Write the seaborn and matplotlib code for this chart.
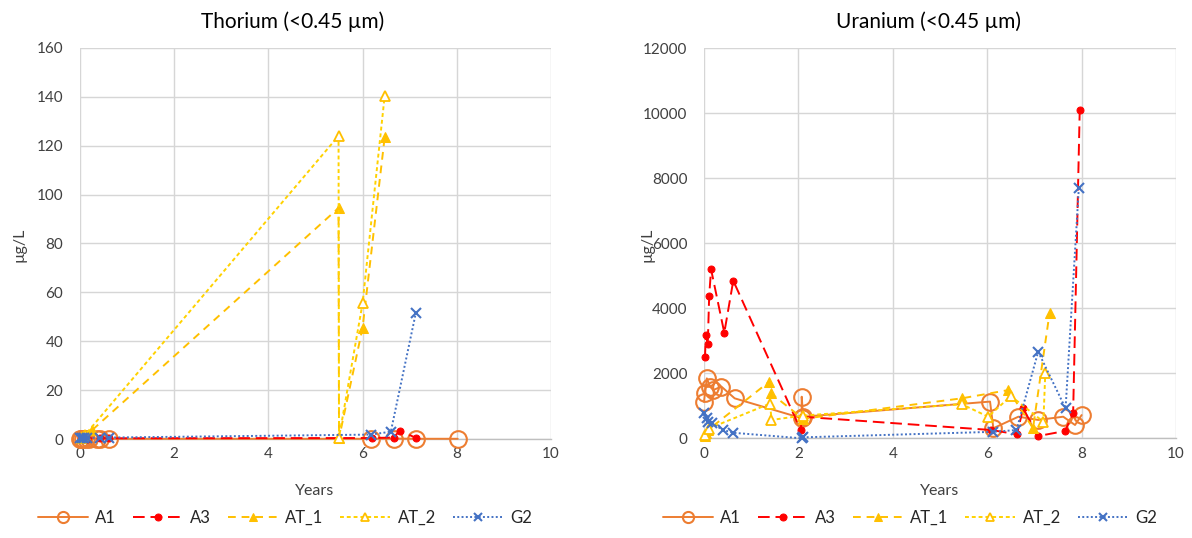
import matplotlib
matplotlib.use("Agg")
import matplotlib.pyplot as plt
import seaborn as sns
import pandas as pd

# ---------------- data ----------------
series_names = ["A1", "A3", "AT_1", "AT_2", "G2"]

# Thorium (<0.45 um), ug/L
th_A1_x = [0.0, 0.03, 0.06, 0.13, 0.2, 0.37, 0.43, 0.62, 6.17, 6.66, 7.13, 8.02]
th_A1_y = [0.1, 0.2, 0.1, 0.2, 0.1, 0.1, 0.1, 0.1, 0.1, 0.2, 0.1, 0.1]
th_A3_x = [0.02, 0.04, 0.08, 0.11, 0.15, 0.43, 0.62, 6.2, 6.66, 6.79, 7.13]
th_A3_y = [0.3, 0.2, 0.4, 0.3, 0.2, 0.5, 0.3, 0.4, 0.6, 3.4, 0.5]
th_AT1_x = [0.03, 0.06, 0.25, 5.49, 5.5, 6.0, 6.47]
th_AT1_y = [0.5, 1.2, 3.5, 94.5, 0.3, 45.5, 123.5]
th_AT2_x = [0.05, 0.1, 5.49, 5.5, 6.0, 6.47]
th_AT2_y = [0.8, 1.5, 124.0, 0.6, 55.5, 140.5]
th_G2_x = [0.0, 0.04, 0.08, 0.15, 0.43, 0.62, 6.17, 6.6, 7.13]
th_G2_y = [0.4, 0.6, 0.5, 0.4, 0.5, 0.6, 1.8, 3.0, 51.5]

# Uranium (<0.45 um), ug/L
u_A1_x = [0.0, 0.02, 0.06, 0.13, 0.2, 0.37, 0.65, 2.07, 2.07, 2.1, 6.06, 6.13, 6.66, 7.08, 7.61, 7.86, 8.0]
u_A1_y = [1125, 1385, 1845, 1590, 1490, 1590, 1230, 620, 1280, 665, 1130, 310, 665, 565, 665, 410, 715]
u_A3_x = [0.02, 0.04, 0.08, 0.11, 0.15, 0.43, 0.62, 2.05, 2.07, 6.09, 6.63, 6.76, 7.08, 7.65, 7.82, 7.96]
u_A3_y = [2490, 3180, 2900, 4390, 5200, 3250, 4850, 255, 665, 255, 123, 920, 70, 225, 770, 10120]
u_AT1_x = [0.02, 0.05, 0.08, 1.38, 1.42, 2.1, 5.46, 6.45, 6.97, 7.32]
u_AT1_y = [60, 150, 250, 1740, 1380, 600, 1230, 1485, 310, 3850]
u_AT2_x = [0.03, 0.1, 1.4, 1.43, 2.1, 5.46, 6.02, 6.5, 7.19, 7.23]
u_AT2_y = [100, 300, 1070, 565, 700, 1050, 665, 1300, 510, 2000]
u_G2_x = [0.0, 0.06, 0.08, 0.16, 0.41, 0.62, 2.07, 2.1, 6.13, 6.62, 7.08, 7.66, 7.94]
u_G2_y = [770, 615, 510, 460, 255, 170, 0, 30, 200, 255, 2665, 920, 7690]

x_ticks = [0, 2, 4, 6, 8, 10]
th_y_ticks = [0, 20, 40, 60, 80, 100, 120, 140, 160]
u_y_ticks = [0, 2000, 4000, 6000, 8000, 10000, 12000]

# ---------------- style ----------------
sns.set_theme(style="white")
plt.rcParams["font.family"] = ["Lato", "DejaVu Sans"]

styles = {
    "A1": dict(color="#ED7D31", linestyle="-", marker="o", markersize=12,
               markerfacecolor="none", markeredgecolor="#ED7D31", markeredgewidth=1.5),
    "A3": dict(color="#FF0000", linestyle=(0, (6, 3)), marker="o", markersize=5,
               markerfacecolor="#FF0000", markeredgecolor="#FF0000"),
    "AT_1": dict(color="#FFC000", linestyle=(0, (4, 3)), marker="^", markersize=7,
                 markerfacecolor="#FFC000", markeredgecolor="#FFC000"),
    "AT_2": dict(color="#FFD200", linestyle=(0, (2, 1.5)), marker="^", markersize=7,
                 markerfacecolor="white", markeredgecolor="#FFC000", markeredgewidth=1.3),
    "G2": dict(color="#4472C4", linestyle=(0, (1, 1.2)), marker="x", markersize=7,
               markeredgecolor="#4472C4", markeredgewidth=1.5),
}
legend_marker_sizes = {"A1": 8, "A3": 5, "AT_1": 6, "AT_2": 6, "G2": 6}

fig = plt.figure(figsize=(11.92, 5.38), dpi=100)
ax1 = fig.add_axes([0.0671, 0.184, 0.3951, 0.727])
ax2 = fig.add_axes([0.5906, 0.1853, 0.396, 0.7247])

th_data = {"A1": (th_A1_x, th_A1_y), "A3": (th_A3_x, th_A3_y), "AT_1": (th_AT1_x, th_AT1_y),
           "AT_2": (th_AT2_x, th_AT2_y), "G2": (th_G2_x, th_G2_y)}
u_data = {"A1": (u_A1_x, u_A1_y), "A3": (u_A3_x, u_A3_y), "AT_1": (u_AT1_x, u_AT1_y),
          "AT_2": (u_AT2_x, u_AT2_y), "G2": (u_G2_x, u_G2_y)}


def draw(ax, data, ylim, yticks, title, title_x, legend_x, xlabel_x, ylabel_x):
    for name in series_names:
        xs, ys = data[name]
        df = pd.DataFrame({"x": xs, "y": ys})
        sns.lineplot(data=df, x="x", y="y", ax=ax, sort=False, estimator=None,
                     linewidth=1.4, label=name, clip_on=False, **styles[name])
    ax.set_xlim(0, 10)
    ax.set_ylim(*ylim)
    ax.set_xticks(x_ticks)
    ax.set_yticks(yticks)
    ax.set_xticklabels([str(t) for t in x_ticks])
    ax.set_yticklabels([str(t) for t in yticks])
    ax.grid(True, color="#D6D6D6", linewidth=1.0)
    ax.set_axisbelow(True)
    for s in ["top", "right", "left"]:
        ax.spines[s].set_visible(False)
    ax.spines["bottom"].set_color("#BFBFBF")
    ax.spines["bottom"].set_linewidth(1.0)
    ax.spines["bottom"].set_zorder(0.5)
    ax.tick_params(axis="both", length=0, labelsize=11, labelcolor="#404040")
    ax.tick_params(axis="y", pad=12)
    ax.tick_params(axis="x", pad=6)
    ax.set_xlabel("")
    ax.set_ylabel("")
    fig.text(title_x / 1192, 1 - 22 / 538, title, ha="center", va="center",
             fontsize=15, color="#000000")
    fig.text(xlabel_x / 1192, 1 - 491 / 538, "Years", ha="center", va="center",
             fontsize=11.5, color="#404040")
    fig.text(ylabel_x / 1192, 1 - 245 / 538, "µg/L", ha="center", va="center",
             rotation=90, fontsize=11.5, color="#404040")
    handles, labels = ax.get_legend_handles_labels()
    if ax.get_legend() is not None:
        ax.get_legend().remove()
    leg = ax.legend(handles, labels, loc="center", bbox_to_anchor=(legend_x / 1192, 1 - 518 / 538),
                    bbox_transform=fig.transFigure, ncol=5, frameon=False, fontsize=12,
                    handlelength=3.0, columnspacing=1.0, handletextpad=0.45,
                    labelcolor="#262626")
    for line, name in zip(leg.get_lines(), labels):
        line.set_markersize(legend_marker_sizes[name])


draw(ax1, th_data, (0, 160), th_y_ticks, "Thorium (<0.45 µm)", 293, 285, 315, 20)
draw(ax2, u_data, (0, 12000), u_y_ticks, "Uranium (<0.45 µm)", 928, 910, 940, 648)

fig.savefig("out.png", dpi=100)
